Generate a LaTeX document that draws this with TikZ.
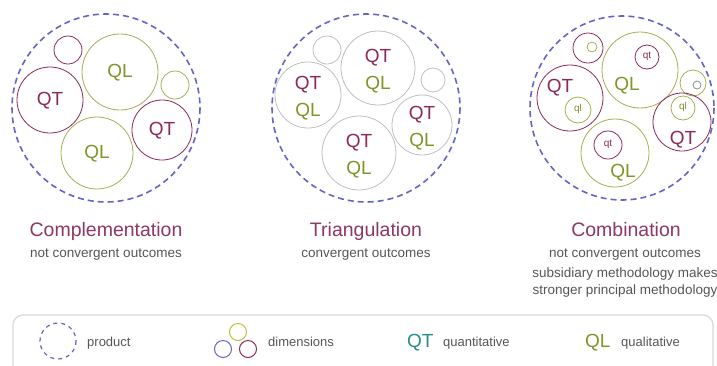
\documentclass[tikz,border=0pt]{standalone}
\usepackage{fontspec}
\setmainfont{Liberation Sans}
\definecolor{qtcol}{RGB}{140,40,90}
\definecolor{qlcol}{RGB}{125,150,40}
\definecolor{qlring}{RGB}{165,175,80}
\definecolor{prodcol}{RGB}{100,100,200}
\definecolor{notecol}{RGB}{85,85,85}
\definecolor{titlecol}{RGB}{140,55,100}
\definecolor{tealcol}{RGB}{40,140,140}
\definecolor{dimtop}{RGB}{190,190,60}
\tikzset{
  product/.style={draw=prodcol, line width=1.6pt, dash pattern=on 6pt off 4pt},
  qtring/.style={draw=qtcol, line width=0.8pt},
  qlring/.style={draw=qlring, line width=0.8pt},
  grayring/.style={draw=black!25, line width=0.8pt},
  qtlabel/.style={text=qtcol, inner sep=0pt, font=\fontsize{19}{19}\selectfont},
  qllabel/.style={text=qlcol, inner sep=0pt, font=\fontsize{19}{19}\selectfont},
  sublabel/.style={inner sep=0pt, font=\fontsize{10}{10}\selectfont},
  titletext/.style={text=titlecol, anchor=base, inner sep=0pt, font=\fontsize{19.5}{20}\selectfont},
  notetext/.style={text=notecol, anchor=base, inner sep=0pt, font=\fontsize{13.5}{14}\selectfont},
  legendtext/.style={text=notecol, anchor=base west, inner sep=0pt, font=\fontsize{13}{14}\selectfont}
}
\begin{document}
\begin{tikzpicture}[x=1pt, y=-1pt]
\useasboundingbox (0,0) rectangle (717,365);
% complementation
\begin{scope}[shift={(106,108)}]
\draw[product] (0,0) circle (94);
\draw[qtring] (-38,-58) circle (14);
\draw[qlring] (14,-36) circle (38);
\draw[qlring] (69,-23) circle (14);
\draw[qtring] (-56,-8) circle (33);
\draw[qtring] (56,22) circle (30);
\draw[qlring] (-9,45) circle (36);
\node[qllabel] (cqla) at (14,-35) {QL};
\node[qtlabel] (cqta) at (-56,-7) {QT};
\node[qtlabel] (cqtb) at (56,23) {QT};
\node[qllabel] (cqlb) at (-9,46) {QL};
\end{scope}
% triangulation
\begin{scope}[shift={(366,108)}]
\draw[product] (0,0) circle (94);
\draw[grayring] (-39,-58) circle (14);
\draw[grayring] (12,-40) circle (37);
\draw[grayring] (67,-28) circle (12);
\draw[grayring] (-58,-13) circle (33);
\draw[grayring] (56,17) circle (30);
\draw[grayring] (-7,45) circle (37);
\node[qtlabel] (tqta) at (12,-50) {QT};
\node[qllabel] (tqla) at (12,-23) {QL};
\node[qtlabel] (tqtb) at (-58,-23) {QT};
\node[qllabel] (tqlb) at (-58,4) {QL};
\node[qtlabel] (tqtc) at (56,7) {QT};
\node[qllabel] (tqlc) at (56,34) {QL};
\node[qtlabel] (tqtd) at (-7,35) {QT};
\node[qllabel] (tqld) at (-7,62) {QL};
\end{scope}
% combination
\begin{scope}[shift={(622,108)}]
\draw[product] (0,0) circle (92);
\draw[qtring] (-34,-60) circle (15);
\draw[qlring] (-30,-61) circle (5);
\draw[qlring] (18,-38) circle (38);
\draw[qtring] (25,-51) circle (12);
\draw[qlring] (71,-25) circle (13);
\draw[qtring, draw=black!45] (75,-23) circle (4);
\draw[qtring] (-52,-10) circle (33);
\draw[qlring] (-44,2) circle (13);
\draw[qtring] (60,14) circle (29);
\draw[qlring] (61,0) circle (12);
\draw[qlring] (-7,45) circle (34);
\draw[qtring] (-14,37) circle (14);
\node[qllabel] (kqla) at (5,-22) {QL};
\node[qtlabel] (kqta) at (-62,-20) {QT};
\node[qtlabel] (kqtb) at (61,32) {QT};
\node[qllabel] (kqlb) at (1,65) {QL};
\node[sublabel, text=qtcol] (kqtc) at (25,-52) {qt};
\node[sublabel, text=qlcol] (kqlc) at (-44,1) {ql};
\node[sublabel, text=qlcol] (kqld) at (61,-1) {ql};
\node[sublabel, text=qtcol] (kqte) at (-14,36) {qt};
\end{scope}
% titles
\node[titletext] (comptitle) at (106,236) {Complementation};
\node[notetext] (compnote) at (106,257) {not convergent outcomes};
\node[titletext] (triatitle) at (366,236) {Triangulation};
\node[notetext] (trianote) at (366,257) {convergent outcomes};
\node[titletext] (combtitle) at (626,236) {Combination};
\node[notetext] (combnote) at (625,257) {not convergent outcomes};
\node[notetext] (combnoteb) at (625,277) {subsidiary methodology makes};
\node[notetext] (combnotec) at (625,294) {stronger principal methodology};
% legend
\draw[black!15, line width=1.2pt, rounded corners=10pt] (13,315) rectangle (713,390);
\draw[product, line width=1.2pt, dash pattern=on 4pt off 4pt] (58,341) circle (18);
\node[legendtext] (prodtext) at (87,346) {product};
\draw[draw=dimtop, line width=1pt] (238,332) circle (8.5);
\draw[draw=prodcol, line width=1pt] (223,349) circle (8.5);
\draw[qtring, line width=1pt] (248,349) circle (8.5);
\node[legendtext] (dimtext) at (268,346) {dimensions};
\node[anchor=base west, inner sep=0pt, text=tealcol, font=\fontsize{19}{19}\selectfont] (qtkey) at (407,347) {QT};
\node[legendtext] (qttext) at (443,346) {quantitative};
\node[anchor=base west, inner sep=0pt, text=qlcol, font=\fontsize{19}{19}\selectfont] (qlkey) at (585,347) {QL};
\node[legendtext] (qltext) at (621,346) {qualitative};
\end{tikzpicture}
\end{document}
